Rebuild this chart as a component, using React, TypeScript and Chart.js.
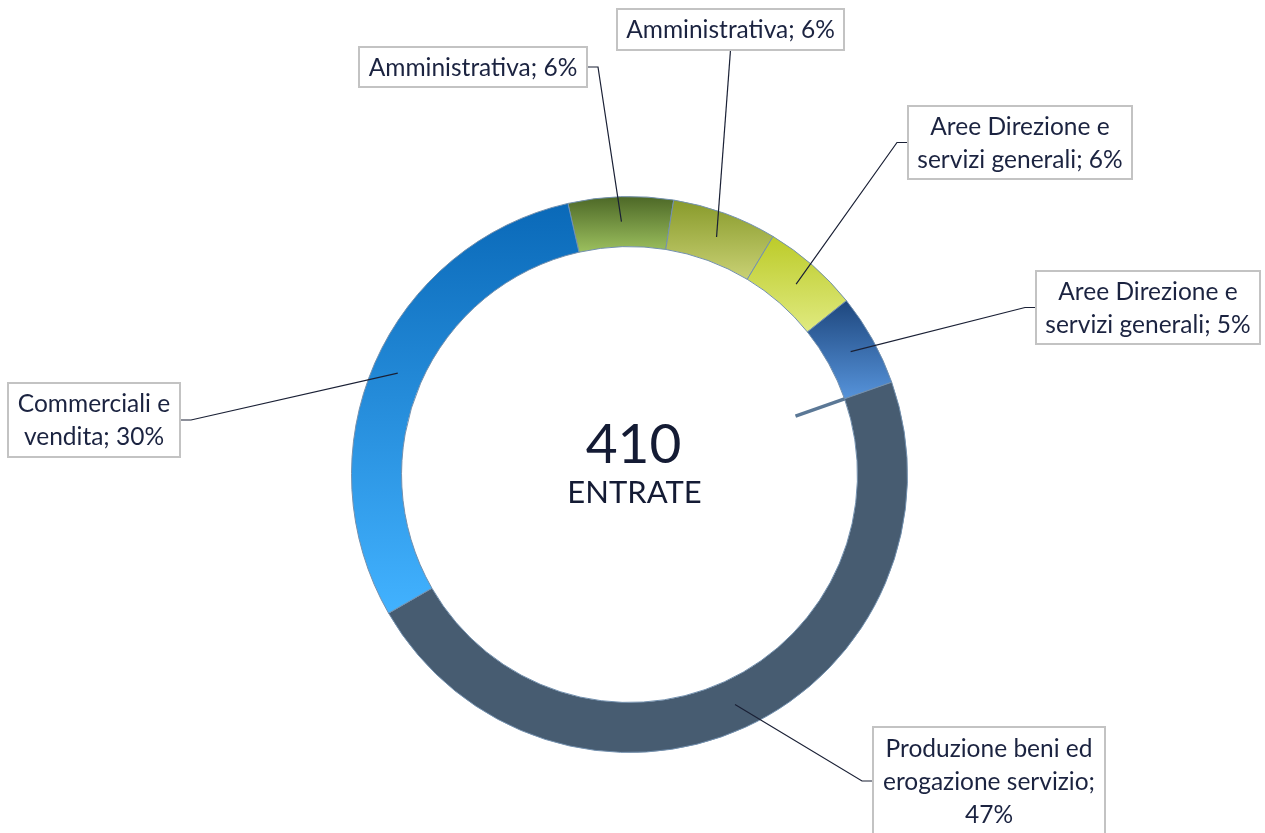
import React, { useEffect, useRef } from "react";
import { Chart, registerables } from "chart.js";

Chart.register(...registerables);

// ---- data ----
const categories = [
  "Amministrativa",
  "Amministrativa",
  "Aree Direzione e servizi generali",
  "Aree Direzione e servizi generali",
  "Produzione beni ed erogazione servizio",
  "Commerciali e vendita",
];
const values = [25, 25, 23, 22, 193, 122];
const centerLabel = "ENTRATE";

// ---- styles / layout ----
const ROTATION = -12.8;
const CUTOUT = 82;
const gradientStops: [string, string][] = [
  ["#4d6827", "#9cc05e"],
  ["#889a2b", "#c9d174"],
  ["#bccb29", "#e0ea80"],
  ["#1e477e", "#5693da"],
  ["#475c71", "#475c71"],
  ["#0a69b8", "#42b2ff"],
];
const labelBoxes = [
  { x: 359, y: 47, w: 228, h: 40, side: "right" },
  { x: 617, y: 9, w: 227, h: 41, side: "bottom" },
  { x: 908, y: 106, w: 224, h: 73, side: "left" },
  { x: 1036, y: 271, w: 224, h: 73, side: "left" },
  { x: 873, y: 727, w: 232, h: 108, side: "left" },
  { x: 8, y: 383, w: 172, h: 74, side: "right" },
];
const FONT = "Lato, 'Open Sans', sans-serif";
const TEXT_COLOR = "#1b2340";

const total = values.reduce((a, b) => a + b, 0);

function segmentGradient(ctx: any) {
  const chart = ctx.chart;
  const ca = chart.chartArea;
  const i = ctx.dataIndex;
  if (i === undefined || i === null) return gradientStops[0][0];
  const [c0, c1] = gradientStops[i];
  if (!ca) return c0;
  const cy = (ca.top + ca.bottom) / 2;
  const outer = (Math.min(ca.width, ca.height) - 1) / 2;
  const inner = (outer * CUTOUT) / 100;
  const before = values.slice(0, i).reduce((a, b) => a + b, 0);
  const a0 = ((ROTATION - 90) * Math.PI) / 180 + (before / total) * Math.PI * 2;
  const a1 = a0 + (values[i] / total) * Math.PI * 2;
  let ymin = Infinity;
  let ymax = -Infinity;
  for (let k = 0; k <= 60; k++) {
    const a = a0 + ((a1 - a0) * k) / 60;
    for (const r of [inner, outer]) {
      const y = cy + r * Math.sin(a);
      ymin = Math.min(ymin, y);
      ymax = Math.max(ymax, y);
    }
  }
  const g = chart.ctx.createLinearGradient(0, ymin, 0, ymax);
  g.addColorStop(0, c0);
  g.addColorStop(1, c1);
  return g;
}

function wrapText(ctx: CanvasRenderingContext2D, text: string, maxW: number) {
  const words = text.split(" ");
  const lines: string[] = [];
  let cur = "";
  for (const w of words) {
    const t = cur ? cur + " " + w : w;
    if (cur && ctx.measureText(t).width > maxW) {
      lines.push(cur);
      cur = w;
    } else cur = t;
  }
  if (cur) lines.push(cur);
  return lines;
}

const decorPlugin = {
  id: "decor",
  afterDatasetsDraw(chart: any) {
    const ctx: CanvasRenderingContext2D = chart.ctx;
    const meta = chart.getDatasetMeta(0);
    const arcs = meta.data;
    const ca = chart.chartArea;
    const cx = (ca.left + ca.right) / 2;
    const cy = (ca.top + ca.bottom) / 2;
    ctx.save();

    // small radial stub at start of the "Produzione" slice
    const a5: any = arcs[4];
    if (a5) {
      const ang = a5.startAngle;
      const r0 = a5.innerRadius;
      ctx.strokeStyle = "#5b7896";
      ctx.lineWidth = 3.5;
      ctx.beginPath();
      ctx.moveTo(cx + Math.cos(ang) * r0, cy + Math.sin(ang) * r0);
      ctx.lineTo(cx + Math.cos(ang) * (r0 - 52), cy + Math.sin(ang) * (r0 - 52));
      ctx.stroke();
    }

    // centre text
    ctx.fillStyle = "#141b34";
    ctx.textAlign = "center";
    ctx.textBaseline = "alphabetic";
    ctx.font = `55px ${FONT}`;
    ctx.fillText(String(total), cx + 4, cy - 11.5);
    ctx.font = `31px ${FONT}`;
    ctx.fillText(centerLabel, cx + 5, cy + 28.5);

    // labels
    ctx.font = `24.5px ${FONT}`;
    arcs.forEach((arc: any, i: number) => {
      const b = labelBoxes[i];
      const p = arc.getCenterPoint();
      let ax: number, ay: number, sx: number, sy: number;
      if (b.side === "right") {
        ax = b.x + b.w; ay = b.y + b.h / 2; sx = ax + 11; sy = ay;
      } else if (b.side === "left") {
        ax = b.x; ay = b.y + b.h / 2; sx = ax - 11; sy = ay;
      } else {
        ax = b.x + b.w / 2; ay = b.y + b.h; sx = ax; sy = ay;
      }
      ctx.strokeStyle = "#1a2035";
      ctx.lineWidth = 1.2;
      ctx.beginPath();
      ctx.moveTo(ax, ay);
      ctx.lineTo(sx, sy);
      ctx.lineTo(p.x, p.y);
      ctx.stroke();

      ctx.fillStyle = "#ffffff";
      ctx.fillRect(b.x, b.y, b.w, b.h);
      ctx.strokeStyle = "#c3c3c3";
      ctx.lineWidth = 2;
      ctx.strokeRect(b.x, b.y, b.w, b.h);

      const pct = Math.round((values[i] / total) * 100);
      const text = `${categories[i]}; ${pct}%`;
      const lines = wrapText(ctx, text, b.w - 10);
      const lh = 33;
      const mid = b.y + b.h / 2;
      ctx.fillStyle = TEXT_COLOR;
      ctx.textAlign = "center";
      ctx.textBaseline = "middle";
      lines.forEach((ln, k) => {
        ctx.fillText(ln, b.x + b.w / 2, mid + (k - (lines.length - 1) / 2) * lh + 1);
      });
    });
    ctx.restore();
  },
};

export default function App() {
  const ref = useRef<HTMLCanvasElement | null>(null);
  useEffect(() => {
    if (!ref.current) return;
    const chart = new Chart(ref.current, {
      type: "doughnut",
      data: {
        labels: categories,
        datasets: [
          {
            data: values,
            backgroundColor: segmentGradient as any,
            borderColor: "#7390ae",
            borderWidth: 1,
          },
        ],
      },
      options: {
        responsive: false,
        animation: false,
        rotation: ROTATION,
        cutout: `${CUTOUT}%`,
        events: [],
        layout: { padding: { top: 196, bottom: 80, left: 351, right: 357 } },
        plugins: { legend: { display: false }, tooltip: { enabled: false } },
      },
      plugins: [decorPlugin],
    });
    return () => chart.destroy();
  }, []);
  return (
    <div style={{ position: "absolute", left: 0, top: 0, width: 1265, height: 833, background: "#fff" }}>
      <canvas ref={ref} width={1265} height={833} style={{ display: "block" }} />
    </div>
  );
}
